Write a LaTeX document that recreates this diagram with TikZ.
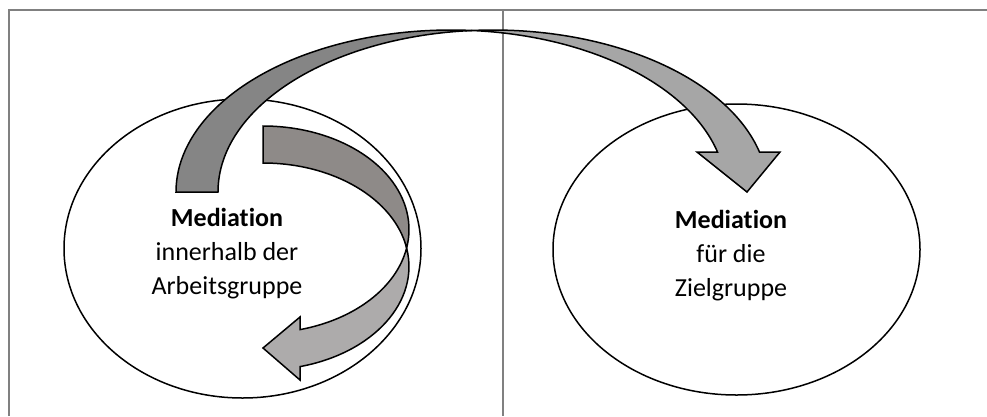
\documentclass[tikz,border=0pt]{standalone}
\usepackage{fontspec}
\setmainfont{Carlito}[Ligatures=NoCommon]
\usetikzlibrary{shapes.geometric,calc}
\definecolor{framegray}{HTML}{808080}
\definecolor{bigdark}{HTML}{858585}
\definecolor{biglight}{HTML}{A6A6A6}
\definecolor{smalldark}{HTML}{8E8A88}
\definecolor{smalllight}{HTML}{ADABAB}
\begin{document}
\begin{tikzpicture}[x=1pt,y=-1pt,
  frameline/.style={draw=framegray,line width=1.2pt},
  groupell/.style={draw=black,line width=1.5pt,fill=white},
  arrowpart/.style={draw=black,line width=1.5pt,line join=miter},
  label/.style={align=center,font=\fontsize{26}{34}\selectfont}]
\useasboundingbox (0,0) rectangle (987,416);
% frame
\coordinate (ftl) at (9,10);
\coordinate (ftr) at (987,10);
\coordinate (fbl) at (9,416);
\coordinate (dtop) at (503,10);
\coordinate (dbot) at (503,416);
\draw[frameline] (fbl) -- (ftl) -- (ftr);
\draw[frameline] (dtop) -- (dbot);
% ellipses
\node[groupell,ellipse,minimum width=357pt,minimum height=299pt,inner sep=0pt] (left) at (242.5,248.5) {};
\node[groupell,ellipse,minimum width=367pt,minimum height=291pt,inner sep=0pt] (right) at (736.5,249.5) {};
% big curved arrow: ellipses L (451,192) and R (493,192), a=275, b=162
\coordinate (cL) at (451,192);
\coordinate (cR) at (493,192);
\draw[arrowpart,fill=bigdark] ($(cL)+(-275,0)$) arc[start angle=180,end angle=274.38,x radius=275,y radius=162]
  arc[start angle=265.62,end angle=180,x radius=275,y radius=162] -- cycle;
\draw[arrowpart,fill=biglight] (472,30.5) arc[start angle=265.62,end angle=345.7,x radius=275,y radius=162]
  -- (780,152) -- (747,192) -- (697,152) -- (717.5,152)
  arc[start angle=345.7,end angle=274.38,x radius=275,y radius=162] -- cycle;
% small curved arrow: ellipses T (263,229.5) and B (263,266.5), a=146, b=103.5
\draw[arrowpart,fill=smalldark] (263,126) arc[start angle=-90,end angle=10.3,x radius=146,y radius=103.5]
  arc[start angle=-10.3,end angle=-90,x radius=146,y radius=103.5] -- cycle;
\draw[arrowpart,fill=smalllight] (406.6,248) arc[start angle=10.3,end angle=75.3,x radius=146,y radius=103.5]
  -- (300,317) -- (263,348) -- (300,380) -- (300,366.6)
  arc[start angle=75.3,end angle=-10.3,x radius=146,y radius=103.5] -- cycle;
% labels
\node[label] (lefttext) at (227,254) {\textbf{Mediation}\\innerhalb der\\Arbeitsgruppe};
\node[label] (righttext) at (731,256) {\textbf{Mediation}\\für die\\Zielgruppe};
\end{tikzpicture}
\end{document}
